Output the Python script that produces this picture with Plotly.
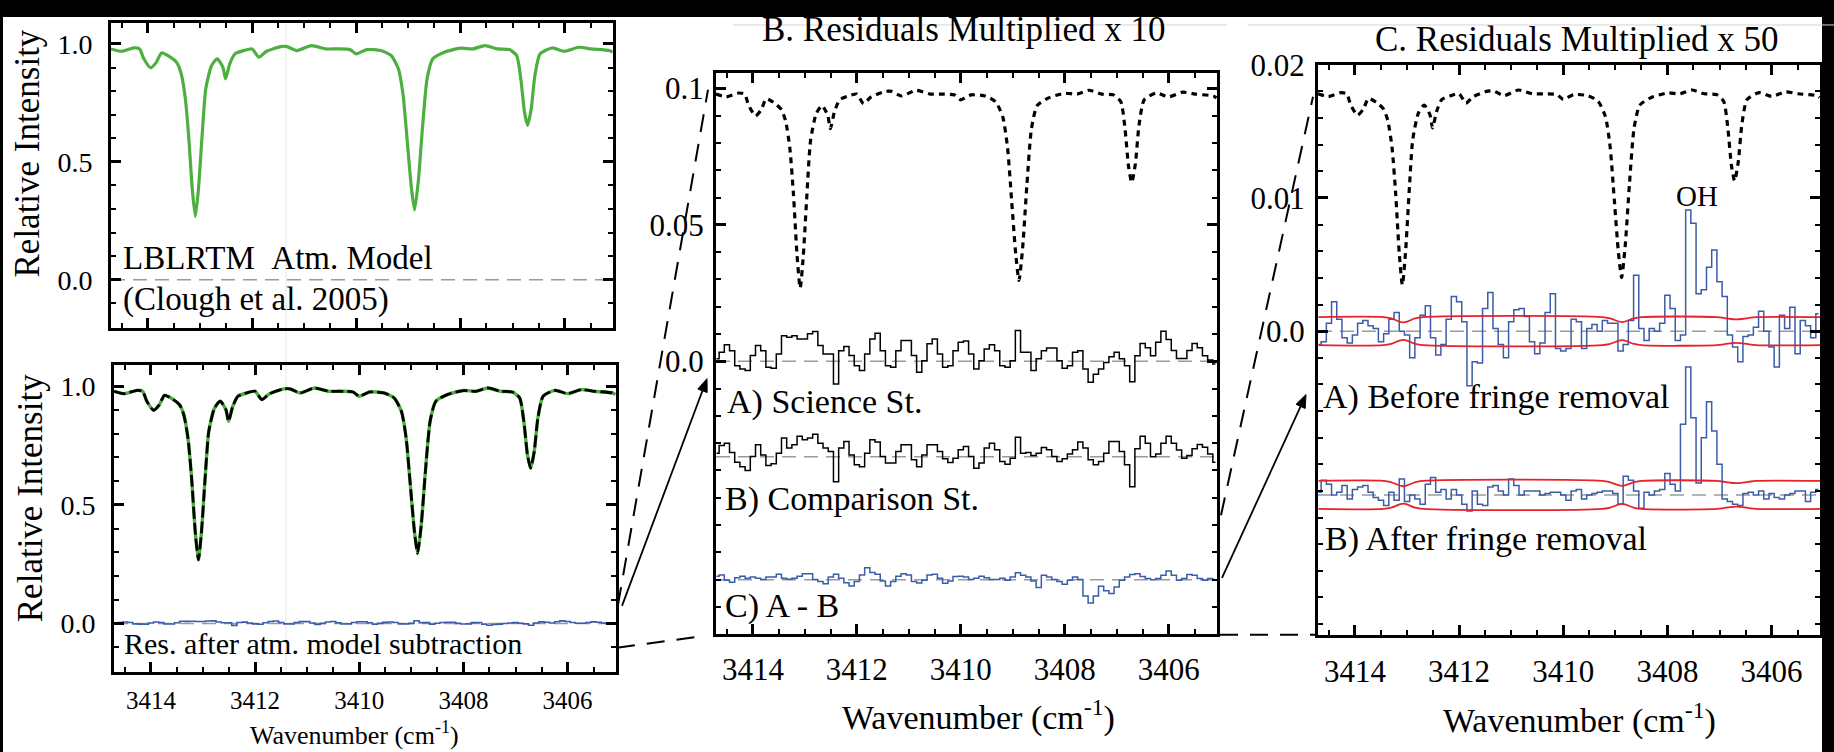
import math
import plotly.graph_objects as go

W, H = 1834, 752
FONT = "Liberation Serif, Times New Roman, Times, serif"

# ---------------- data ----------------
# LBLRTM atmospheric model (relative intensity vs wavenumber)
model_wn = [3414.71, 3414.51, 3414.27, 3414.16, 3414.08, 3413.95, 3413.84, 3413.74, 3413.57, 3413.45,
            3413.37, 3413.29, 3413.22, 3413.15, 3413.09, 3413.03, 3412.96, 3412.89, 3412.78, 3412.67,
            3412.56, 3412.51, 3412.43, 3412.33, 3412.16, 3412.00, 3411.87, 3411.73, 3411.45, 3411.33,
            3411.14, 3410.86, 3410.59, 3410.35, 3410.12, 3410.00, 3409.80, 3409.53, 3409.33, 3409.19,
            3409.10, 3409.02, 3408.94, 3408.88, 3408.81, 3408.73, 3408.64, 3408.53, 3408.31, 3408.00,
            3407.76, 3407.53, 3407.29, 3407.06, 3406.92, 3406.84, 3406.77, 3406.71, 3406.64, 3406.57,
            3406.47, 3406.24, 3406.00, 3405.73, 3405.49, 3405.14, 3405.08]
model_int = [0.979, 0.969, 0.983, 0.979, 0.937, 0.899, 0.922, 0.962, 0.944, 0.922,
             0.880, 0.782, 0.613, 0.387, 0.268, 0.387, 0.613, 0.810, 0.908, 0.937,
             0.901, 0.852, 0.915, 0.958, 0.972, 0.979, 0.944, 0.968, 0.989, 0.989,
             0.972, 0.993, 0.979, 0.979, 0.976, 0.958, 0.976, 0.972, 0.951, 0.894,
             0.782, 0.585, 0.387, 0.296, 0.415, 0.641, 0.852, 0.937, 0.965, 0.982,
             0.979, 0.993, 0.979, 0.976, 0.951, 0.852, 0.711, 0.655, 0.725, 0.866,
             0.958, 0.983, 0.969, 0.986, 0.979, 0.972, 0.965]

# residual spectra, binned (values in units of 1e-3)
res_wn = [3414.7, 3414.6, 3414.5, 3414.4, 3414.3, 3414.2, 3414.1, 3414.0, 3413.9, 3413.8,
          3413.7, 3413.6, 3413.5, 3413.4, 3413.3, 3413.2, 3413.1, 3413.0, 3412.9, 3412.8,
          3412.7, 3412.6, 3412.5, 3412.4, 3412.3, 3412.2, 3412.1, 3412.0, 3411.9, 3411.8,
          3411.7, 3411.6, 3411.5, 3411.4, 3411.3, 3411.2, 3411.1, 3411.0, 3410.9, 3410.8,
          3410.7, 3410.6, 3410.5, 3410.4, 3410.3, 3410.2, 3410.1, 3410.0, 3409.9, 3409.8,
          3409.7, 3409.6, 3409.5, 3409.4, 3409.3, 3409.2, 3409.1, 3409.0, 3408.9, 3408.8,
          3408.7, 3408.6, 3408.5, 3408.4, 3408.3, 3408.2, 3408.1, 3408.0, 3407.9, 3407.8,
          3407.7, 3407.6, 3407.5, 3407.4, 3407.3, 3407.2, 3407.1, 3407.0, 3406.9, 3406.8,
          3406.7, 3406.6, 3406.5, 3406.4, 3406.3, 3406.2, 3406.1, 3406.0, 3405.9, 3405.8,
          3405.7, 3405.6, 3405.5, 3405.4, 3405.3, 3405.2, 3405.1]

science_res = [0.9, 3.3, 6.1, 3.9, -1.6, -2.8, -3.4, 2.1, 5.8, 3.9,
               -2.2, -2.5, 2.7, 9.4, 8.8, 9.4, 8.2, 8.2, 10.1, 10.9,
               5.8, 2.7, 2.7, -8.3, 3.9, 5.4, 2.1, -1.6, -3.4, 2.7,
               8.2, 10.3, 3.9, -1.6, -2.2, 3.9, 7.6, 7.6, 2.1, -4.0,
               0.2, 6.4, 8.2, 2.7, -2.2, -1.6, 3.9, 7.0, 7.4, 2.7,
               -2.8, 0.2, 4.5, 6.1, 3.9, -1.6, -2.2, 0.2, 11.3, 3.3,
               3.3, -3.4, 0.9, 3.9, 4.9, 4.9, 0.2, -2.5, -1.6, 3.3,
               3.9, -2.8, -7.7, -4.7, -2.8, -0.4, 1.7, 3.3, 0.9, -1.6,
               -7.5, 2.0, 6.5, 5.0, 2.0, 7.0, 11.0, 8.0, 4.0, 1.0,
               1.0, 4.0, 6.5, 5.0, 2.0, 0.5, -1.0]

comparison_res = [1.3, 4.2, 5.0, 1.6, -2.0, -3.6, -5.0, 0.1, 4.4, 0.7,
                  -3.2, -2.5, 1.3, 6.9, 3.2, 4.4, 7.5, 6.3, 6.9, 8.3,
                  5.0, 3.2, 2.0, -9.1, 3.2, 5.6, 0.7, -2.9, -3.6, 1.3,
                  6.3, 5.4, 0.1, -2.3, -2.3, 2.0, 4.4, 4.4, -1.1, -3.6,
                  0.7, 4.4, 4.4, 2.0, -0.7, -2.1, -0.5, 2.6, 3.8, 0.1,
                  -4.2, -2.3, 3.2, 5.0, 2.6, -1.7, -2.7, -0.5, 7.2, 1.3,
                  1.6, 0.5, 1.3, 3.4, 2.6, 0.1, -1.7, -0.7, 1.0, 2.6,
                  5.4, 3.2, -1.1, -2.9, -1.7, 1.3, 5.6, 5.6, 2.0, -2.9,
                  -11.0, 3.0, 7.5, 5.0, 0.0, 1.0, 5.0, 7.5, 5.0, 2.5,
                  -0.5, 0.5, 3.0, 4.5, 3.5, 1.0, -2.0]

diff_res = [1.3, 1.7, -0.2, -0.9, 0.7, 1.3, 0.5, 1.0, 0.5, 0.1,
            1.0, 1.0, 2.0, 0.5, 0.2, 0.5, 1.3, 2.2, 2.2, 0.1,
            -0.7, -1.5, 1.0, 2.0, 0.5, -1.1, -2.3, -0.7, 1.7, 4.4,
            2.6, 2.0, -0.5, -2.3, -0.7, 1.3, 2.2, 1.7, -0.7, -1.2,
            -0.2, 1.7, 2.0, 0.5, -1.3, -0.5, 1.2, 1.3, 1.0, 0.1,
            0.5, 1.3, 0.7, 0.1, 0.1, 0.5, -0.2, 1.0, 2.5, 1.6,
            1.0, -0.5, -2.9, 1.6, 1.0, 0.1, -0.7, -1.7, -0.2, 1.0,
            0.1, -6.0, -8.5, -6.0, -2.4, -4.1, -5.1, -2.7, -0.2, 1.0,
            1.9, 2.2, 1.2, 0.4, 0.0, 0.4, 1.6, 3.2, 1.6, -0.2,
            0.4, 1.9, 1.6, 0.4, -0.2, 0.4, 0.0]

before_res = [-1.0, -0.8, 0.6, 2.2, 0.9, -0.5, -0.9, -0.3, 0.6, 0.8,
              0.4, 0.2, -0.8, -0.2, 0.9, 1.4, 0.0, -0.3, -2.0, -0.5,
              1.2, 1.9, -0.5, -1.8, -1.0, 0.9, 2.6, 2.2, 0.7, -4.1,
              -2.3, -2.4, 1.7, 2.9, 0.2, -1.0, -2.0, 0.7, 1.6, 1.7,
              1.1, -0.8, -1.7, -0.9, 1.4, 2.8, -1.3, -1.5, -1.3, 0.9,
              0.7, -1.3, 0.2, 0.5, 0.0, 0.8, 0.6, 0.6, -1.5, -1.0,
              0.8, 4.2, 0.2, -0.7, 0.2, 0.0, 0.6, 2.7, 1.7, -0.7,
              -0.3, 9.1, 8.1, 2.8, 3.1, 4.8, 6.1, 3.7, 2.6, -0.3,
              -1.2, -2.3, -0.4, -0.3, 0.3, 1.5, 0.0, -1.2, -2.7, 1.2,
              0.2, 1.8, -1.7, 0.8, 0.4, -0.5, 1.3]

after_res = [0.2, 1.1, 0.8, 0.0, 0.2, 0.7, -0.3, 0.4, 0.6, 0.7,
             0.2, -0.2, -0.4, -0.8, 0.2, -0.4, 1.2, -0.5, 0.0, -0.3,
             -0.7, 0.8, 1.3, 0.2, 0.4, -0.3, 0.4, 0.0, -0.7, -1.2,
             0.3, -0.7, -0.8, 0.6, 0.7, 0.3, 0.0, 1.2, 0.7, 0.0,
             0.3, 0.3, 0.3, 0.0, 0.1, 0.2, 0.2, 0.0, -0.4, 0.3,
             0.4, -0.3, 0.0, 0.1, 0.2, 0.3, 0.3, 0.1, -0.7, 1.4,
             1.1, 0.3, -1.0, 0.2, 0.0, 0.3, 0.4, 1.6, 0.8, 0.3,
             5.3, 9.6, 5.8, 0.9, 4.3, 7.0, 4.8, 2.3, -0.3, -0.5,
             -0.7, -0.8, 0.1, 0.2, 0.0, 0.3, -0.3, 0.1, -0.2, -0.3,
             0.0, 0.1, 0.3, 0.3, -0.5, 0.2, 0.4]

# noise envelope (half width, units of 1e-3)
env_wn = [3414.7, 3413.45, 3413.3, 3413.07, 3412.85, 3412.7, 3409.25, 3409.1, 3408.87,
          3408.65, 3408.5, 3407.05, 3406.9, 3406.68, 3406.45, 3406.3, 3405.05]
env_half = [1.05, 1.05, 0.95, 0.65, 0.95, 1.05, 1.05, 0.95, 0.68,
            0.95, 1.05, 1.05, 0.98, 0.88, 0.98, 1.05, 1.05]

x_ticks = [3414, 3412, 3410, 3408, 3406]
x_tick_labels = ["3414", "3412", "3410", "3408", "3406"]

# ---------------- display constants ----------------
B_MODEL_SCALE = 0.1
C_MODEL_SCALE, C_MODEL_SHIFT = 0.0202, -0.00195
B_OFFSETS = {"sci": 0.0, "comp": -0.035, "diff": -0.08}
C_OFFSETS = {"before": 0.0, "after": -0.0123}
GREEN = "#4daf3f"
BLUE = "#3b5ca8"
RED = "#e8202a"
GRAY = "#9a9a9a"

# vertical placement correction (screen y = Y_OFF + Y_SC * figure y)
Y_OFF, Y_SC = 15.0, 0.981


def px(x):
    return x / W


def py(y):
    return 1 - ((y - Y_OFF) / Y_SC) / H


def milli(vals, off=0.0):
    return [v / 1000.0 + off for v in vals]


fig = go.Figure()

# Panel A top
fig.add_trace(go.Scatter(x=model_wn, y=model_int, xaxis="x", yaxis="y", mode="lines",
                         line=dict(color=GREEN, width=3.2, shape="spline", smoothing=0.6)))
# Panel A bottom
fig.add_trace(go.Scatter(x=res_wn, y=milli(science_res), xaxis="x2", yaxis="y2", mode="lines",
                         line=dict(color=BLUE, width=1.6, shape="hvh")))
fig.add_trace(go.Scatter(x=model_wn, y=model_int, xaxis="x2", yaxis="y2", mode="lines",
                         line=dict(color=GREEN, width=3.4, shape="spline", smoothing=0.6)))
fig.add_trace(go.Scatter(x=model_wn, y=model_int, xaxis="x2", yaxis="y2", mode="lines",
                         line=dict(color="black", width=2.8, shape="spline", smoothing=0.6,
                                   dash="12px,4px")))
# Panel B
fig.add_trace(go.Scatter(x=model_wn, y=[v * B_MODEL_SCALE for v in model_int], xaxis="x3", yaxis="y3",
                         mode="lines", line=dict(color="black", width=3.2, shape="spline", smoothing=0.6,
                                                 dash="6px,5px")))
fig.add_trace(go.Scatter(x=res_wn, y=milli(science_res, B_OFFSETS["sci"]), xaxis="x3", yaxis="y3",
                         mode="lines", line=dict(color="black", width=1.5, shape="hvh")))
fig.add_trace(go.Scatter(x=res_wn, y=milli(comparison_res, B_OFFSETS["comp"]), xaxis="x3", yaxis="y3",
                         mode="lines", line=dict(color="black", width=1.5, shape="hvh")))
fig.add_trace(go.Scatter(x=res_wn, y=milli(diff_res, B_OFFSETS["diff"]), xaxis="x3", yaxis="y3",
                         mode="lines", line=dict(color=BLUE, width=1.5, shape="hvh")))
# Panel C
fig.add_trace(go.Scatter(x=model_wn, y=[v * C_MODEL_SCALE + C_MODEL_SHIFT for v in model_int],
                         xaxis="x4", yaxis="y4", mode="lines",
                         line=dict(color="black", width=3.2, shape="spline", smoothing=0.6, dash="6px,5px")))
for key, series in (("before", before_res), ("after", after_res)):
    off = C_OFFSETS[key]
    fig.add_trace(go.Scatter(x=res_wn, y=milli(series, off), xaxis="x4", yaxis="y4", mode="lines",
                             line=dict(color=BLUE, width=1.5, shape="hvh")))
    for sgn in (1, -1):
        fig.add_trace(go.Scatter(x=env_wn, y=[sgn * h / 1000.0 + off for h in env_half],
                                 xaxis="x4", yaxis="y4", mode="lines",
                                 line=dict(color=RED, width=1.8, shape="spline", smoothing=1.0)))

# ---------------- axes ----------------
XR = [3414.71, 3405.07]
minor_x = [3405.5 + 0.5 * k for k in range(19)]


def xaxis(domain, anchor, labels, size, standoff):
    return dict(domain=domain, anchor=anchor, range=XR, tickmode="array", tickvals=x_ticks,
                ticktext=x_tick_labels, ticks="inside", ticklen=10, tickwidth=2.5, tickcolor="black",
                mirror="allticks", showline=True, linewidth=3, linecolor="black", showgrid=False,
                zeroline=False, showticklabels=labels, ticklabelstandoff=standoff,
                tickfont=dict(family=FONT, size=size, color="black"),
                minor=dict(tickmode="array", tickvals=minor_x, ticks="inside", ticklen=5, tickwidth=2,
                           tickcolor="black", showgrid=False))


def yaxis(domain, anchor, rng, vals, texts, minor_vals, size, standoff):
    return dict(domain=domain, anchor=anchor, range=rng, tickmode="array", tickvals=vals, ticktext=texts,
                ticks="inside", ticklen=10, tickwidth=2.5, tickcolor="black", mirror="allticks",
                showline=True, linewidth=3, linecolor="black", showgrid=False, zeroline=False,
                ticklabelstandoff=standoff, tickfont=dict(family=FONT, size=size, color="black"),
                minor=dict(tickmode="array", tickvals=minor_vals, ticks="inside", ticklen=5, tickwidth=2,
                           tickcolor="black", showgrid=False))


minor_A = [round(-0.2 + 0.1 * k, 2) for k in range(14)]
minor_B = [round(-0.09 + 0.01 * k, 3) for k in range(20)]
minor_C = [round(-0.022 + 0.002 * k, 4) for k in range(22)]

fig.update_layout(
    xaxis=xaxis([px(111), px(613)], "y", False, 25, 4),
    yaxis=yaxis([py(327), py(21)], "x", [-0.204, 1.089], [0, 0.5, 1.0], ["0.0", "0.5", "1.0"], minor_A, 28, 10),
    xaxis2=xaxis([px(114), px(616)], "y2", True, 25, 4),
    yaxis2=yaxis([py(672), py(364)], "x2", [-0.203, 1.091], [0, 0.5, 1.0], ["0.0", "0.5", "1.0"], minor_A, 28, 10),
    xaxis3=xaxis([px(716), px(1217)], "y3", True, 31, 6),
    yaxis3=yaxis([py(634), py(71)], "x3", [-0.0998, 0.1057], [0, 0.05, 0.1], ["0.0", "0.05", "0.1"], minor_B, 31, 3),
    xaxis4=xaxis([px(1318), px(1820)], "y4", True, 31, 7),
    yaxis4=yaxis([py(635), py(63)], "x4", [-0.0228, 0.0200], [0, 0.01, 0.02], ["0.0", "0.01", "0.02"], minor_C, 31, 4),
)

# ---------------- shapes ----------------
shapes = [
    dict(type="rect", xref="paper", yref="paper", x0=px(3), x1=px(1822), y0=0, y1=1,
         fillcolor="white", line=dict(width=0), layer="below"),
    dict(type="line", xref="paper", yref="paper", x0=px(286), x1=px(286), y0=py(672), y1=py(21),
         line=dict(color="#e6e6e6", width=1), layer="below"),
    dict(type="line", xref="paper", yref="paper", x0=px(733), x1=px(1227), y0=py(23), y1=py(23),
         line=dict(color="#d4d4d4", width=1)),
    dict(type="line", xref="paper", yref="paper", x0=px(1248), x1=px(1834), y0=py(23), y1=py(23),
         line=dict(color="#d4d4d4", width=1)),
]
baselines = [("x", "y", 0.0), ("x2", "y2", 0.0),
             ("x3", "y3", B_OFFSETS["sci"]), ("x3", "y3", B_OFFSETS["comp"]), ("x3", "y3", B_OFFSETS["diff"]),
             ("x4", "y4", C_OFFSETS["before"]), ("x4", "y4", C_OFFSETS["after"])]
for xa, ya, yv in baselines:
    shapes.append(dict(type="line", xref=xa + " domain", yref=ya, x0=0, x1=1, y0=yv, y1=yv,
                       line=dict(color=GRAY, width=1.5, dash="14px,8px"), layer="below"))
# connector dashed lines
for (x0, y0, x1, y1) in [(618, 605, 708, 88), (617, 648, 706, 636),
                         (1221, 515, 1313, 95), (1220, 635, 1316, 635)]:
    shapes.append(dict(type="line", xref="paper", yref="paper", x0=px(x0), y0=py(y0), x1=px(x1), y1=py(y1),
                       line=dict(color="black", width=2, dash="18px,12px")))
# arrows (line + filled head)
for (tx, ty, hx, hy) in [(622, 606, 707, 378), (1222, 578, 1306, 394)]:
    dx, dy = hx - tx, hy - ty
    L = math.hypot(dx, dy)
    ux, uy = dx / L, dy / L
    bx, by = hx - 13 * ux, hy - 13 * uy
    nx, ny = -uy, ux
    shapes.append(dict(type="line", xref="paper", yref="paper", x0=px(tx), y0=py(ty), x1=px(bx), y1=py(by),
                       line=dict(color="black", width=1.8)))
    path = "M {} {} L {} {} L {} {} Z".format(px(hx), py(hy), px(bx + 5 * nx), py(by + 5 * ny),
                                             px(bx - 5 * nx), py(by - 5 * ny))
    shapes.append(dict(type="path", xref="paper", yref="paper", path=path, fillcolor="black",
                       line=dict(color="black", width=1)))
fig.update_layout(shapes=shapes)

# ---------------- annotations ----------------
ann = []


def text(t, x, y, size, xanchor="left", angle=0):
    ann.append(dict(text=t, x=px(x), y=py(y), xref="paper", yref="paper", showarrow=False,
                    xanchor=xanchor, yanchor="middle", textangle=angle,
                    font=dict(family=FONT, size=size, color="black")))


text("LBLRTM\u00a0\u00a0Atm. Model", 121, 257, 33)
text("(Clough et al. 2005)", 121, 299, 33)
text("Res. after atm. model subtraction", 122, 644, 30)
text("A) Science St.", 725, 401, 34)
text("B) Comparison St.", 723, 499, 34)
text("C) A - B", 723, 606, 34)
text("A) Before fringe removal", 1321, 396, 34)
text("B) After fringe removal", 1323, 539, 34)
text("OH", 1697, 195, 29, xanchor="center")
text("B. Residuals Multiplied x 10", 963, 28, 35, xanchor="center")
text("C. Residuals Multiplied x 50", 1576, 38, 35, xanchor="center")
text("Wavenumber (cm<sup>-1</sup>)", 354, 734, 26, xanchor="center")
text("Wavenumber (cm<sup>-1</sup>)", 978, 716, 34, xanchor="center")
text("Wavenumber (cm<sup>-1</sup>)", 1579, 719, 34, xanchor="center")
text("Relative Intensity", 27, 152, 35, xanchor="center", angle=-90)
text("Relative Intensity", 30, 498, 35, xanchor="center", angle=-90)

fig.update_layout(annotations=ann)

fig.update_layout(width=W, height=H, margin=dict(l=0, r=0, t=0, b=0), showlegend=False,
                  paper_bgcolor="black", plot_bgcolor="white")

POST = "document.body.style.margin='0px';document.body.style.background='black';"

fig.write_html("out.html", config={"displayModeBar": False}, post_script=POST)
